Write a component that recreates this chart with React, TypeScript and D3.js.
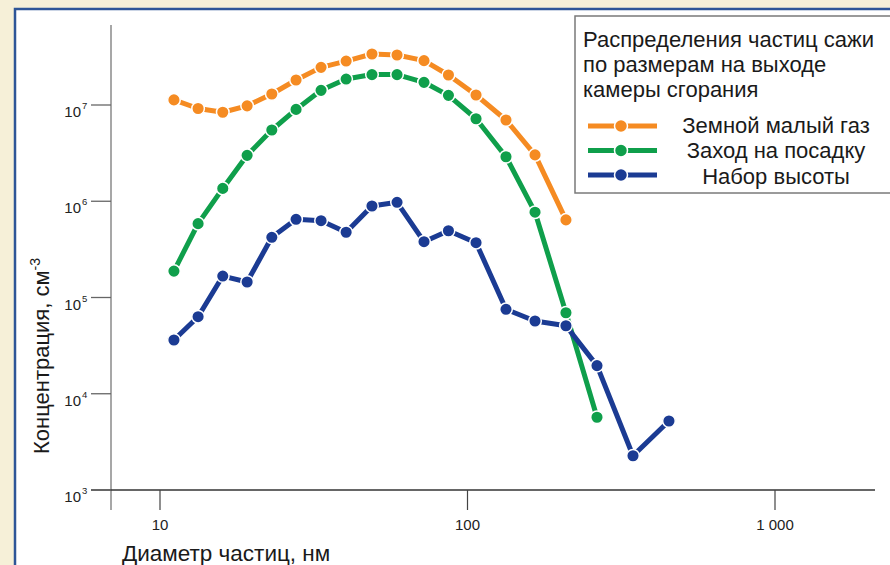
import React from "react";
import * as d3 from "d3";

const diameters = [11.1, 13.3, 16.0, 19.2, 23.1, 27.7, 33.4, 40.3, 48.9, 59.0, 72.2, 86.7, 106.6, 133.4, 165.8, 209, 263.7, 345.3, 452];
const groundIdle = [1.13e7, 9.2e6, 8.4e6, 9.8e6, 1.3e7, 1.82e7, 2.46e7, 2.86e7, 3.39e7, 3.31e7, 2.89e7, 2.05e7, 1.27e7, 6.98e6, 3.03e6, 6.4e5];
const approach = [1.88e5, 5.85e5, 1.36e6, 3.0e6, 5.5e6, 9.0e6, 1.42e7, 1.86e7, 2.07e7, 2.07e7, 1.72e7, 1.26e7, 7.2e6, 2.9e6, 7.7e5, 6.95e4, 5.7e3];
const climb = [3.62e4, 6.32e4, 1.67e5, 1.45e5, 4.22e5, 6.49e5, 6.28e5, 4.76e5, 8.93e5, 9.75e5, 3.8e5, 4.94e5, 3.71e5, 7.54e4, 5.7e4, 5.09e4, 1.96e4, 2.27e3, 5.21e3];
const seriesNames = ["Земной малый газ", "Заход на посадку", "Набор высоты"];
const seriesColors = ["#F58B22", "#0F9F4B", "#1B3B93"];
const xTicks = [10, 100, 1000];
const xTickLabels = ["10", "100", "1 000"];
const yTicks = [1e3, 1e4, 1e5, 1e6, 1e7];
const yExponents = ["3", "4", "5", "6", "7"];
const legendTitle = ["Распределения частиц сажи", "по размерам на выходе", "камеры сгорания"];

const FONT = "'Liberation Sans', Arial, sans-serif";

export default function App() {
  const x = d3.scaleLog().domain([10, 1000]).range([160, 775]);
  const y = d3.scaleLog().domain([1e3, 1e7]).range([490, 105]);
  const line = d3
    .line<[number, number]>()
    .x((d) => x(d[0]))
    .y((d) => y(d[1]));

  const allSeries = [groundIdle, approach, climb].map((vals) =>
    vals.map((v, i) => [diameters[i], v] as [number, number])
  );

  return (
    <svg width={890} height={565} style={{ position: "absolute", left: 0, top: 0 }} fontFamily={FONT}>
      <rect x={0} y={0} width={890} height={565} fill="#F6F0D8" />
      <rect x={15} y={9} width={900} height={600} fill="#fff" stroke="#2E5597" strokeWidth={2.5} />

      {/* axes */}
      <line x1={111} x2={111} y1={25} y2={510} stroke="#8a8a8a" strokeWidth={1.5} />
      <line x1={91} x2={875} y1={y(1e3)} y2={y(1e3)} stroke="#333" strokeWidth={1.3} />
      {yTicks.map((t, i) => (
        <g key={"yt" + i}>
          <line x1={91} x2={111} y1={y(t)} y2={y(t)} stroke="#666" strokeWidth={1.3} />
          <text x={81} y={y(t) + 12} fontSize={15} textAnchor="end" fill="#222">10</text>
          <text x={82} y={y(t) + 4} fontSize={9.5} fill="#222">{yExponents[i]}</text>
        </g>
      ))}
      {xTicks.map((t, i) => (
        <g key={"xt" + i}>
          <line x1={x(t)} x2={x(t)} y1={490} y2={510} stroke="#444" strokeWidth={1.2} />
          <text x={x(t)} y={530} fontSize={15} textAnchor="middle" fill="#222">{xTickLabels[i]}</text>
        </g>
      ))}

      <text x={122} y={561} fontSize={22.5} fill="#1a1a1a">Диаметр частиц, нм</text>
      <text transform="translate(49,356) rotate(-90)" fontSize={22} textAnchor="middle" fill="#1a1a1a">
        Концентрация, см<tspan dy={-9} fontSize={14}>-3</tspan>
      </text>

      {/* series */}
      {allSeries.map((pts, si) => (
        <g key={"s" + si}>
          <path d={line(pts) || ""} fill="none" stroke={seriesColors[si]} strokeWidth={5} strokeLinejoin="round" />
          {pts.map((p, i) => (
            <circle key={i} cx={x(p[0])} cy={y(p[1])} r={6.3} fill={seriesColors[si]} stroke="#fff" strokeWidth={1.5} />
          ))}
        </g>
      ))}

      {/* legend */}
      <rect x={575} y={16} width={330} height={177} fill="#fff" stroke="#7a7a7a" strokeWidth={1.5} />
      {legendTitle.map((t, i) => (
        <text key={"lt" + i} x={583} y={47 + i * 25} fontSize={22} fill="#1a1a1a">{t}</text>
      ))}
      {seriesNames.map((n, i) => (
        <g key={"lg" + i}>
          <line x1={588} x2={657} y1={126 + i * 24.5} y2={126 + i * 24.5} stroke={seriesColors[i]} strokeWidth={5} />
          <circle cx={621} cy={126 + i * 24.5} r={6.5} fill={seriesColors[i]} stroke="#fff" strokeWidth={1.5} />
          <text x={776} y={133 + i * 25.3} fontSize={22} textAnchor="middle" fill="#1a1a1a">{n}</text>
        </g>
      ))}
    </svg>
  );
}
